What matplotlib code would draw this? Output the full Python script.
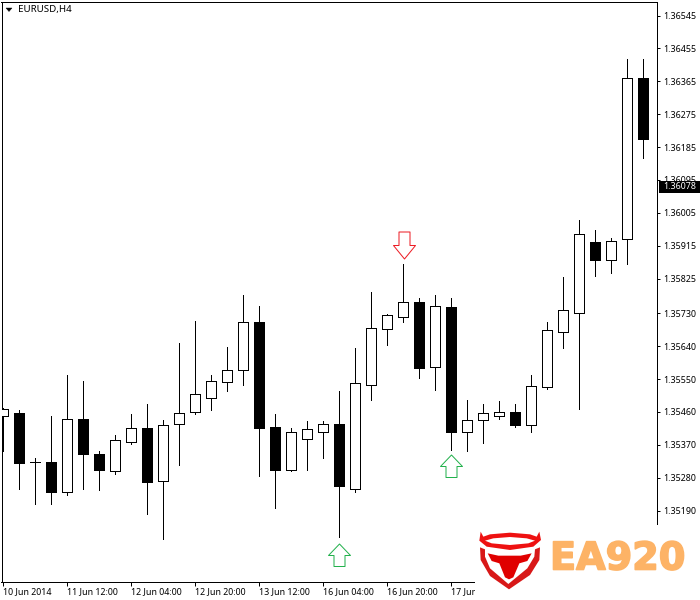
import matplotlib
matplotlib.use("Agg")
import matplotlib.pyplot as plt
import matplotlib.patheffects as pe
from matplotlib.patches import Polygon, Rectangle

from matplotlib.path import Path

opens = [1.35448,1.35456,1.35322,1.35322,1.35240,1.35442,1.35344,1.35297,1.35379,1.35415,1.35272,
         1.35426,1.35461,1.35497,1.35543,1.35576,1.35705,1.35420,1.35300,1.35387,1.35406,1.35426,
         1.35250,1.35535,1.35688,1.35721,1.35762,1.35582,1.35746,1.35406,1.35437,1.35450,1.35461,
         1.35423,1.35527,1.35680,1.35732,1.35924,1.35877,1.35932,1.36373]
highs = [1.35472,1.35464,1.35333,1.35448,1.35562,1.35546,1.35354,1.35396,1.35453,1.35483,1.35439,
         1.35650,1.35710,1.35562,1.35639,1.35781,1.35749,1.35453,1.35415,1.35434,1.35434,1.35516,
         1.35636,1.35787,1.35727,1.35864,1.35773,1.35781,1.35773,1.35494,1.35483,1.35489,1.35483,
         1.35560,1.35705,1.35828,1.35984,1.35959,1.35935,1.36427,1.36425]
lows = [1.35352,1.35248,1.35207,1.35209,1.35234,1.35248,1.35245,1.35289,1.35371,1.35182,1.35111,
        1.35316,1.35453,1.35464,1.35516,1.35535,1.35286,1.35198,1.35297,1.35300,1.35335,1.35119,
        1.35240,1.35494,1.35642,1.35705,1.35554,1.35521,1.35357,1.35352,1.35374,1.35442,1.35420,
        1.35406,1.35524,1.35636,1.35469,1.35831,1.35839,1.35866,1.36154]
closes = [1.35467,1.35319,1.35322,1.35240,1.35442,1.35344,1.35302,1.35382,1.35415,1.35267,1.35423,
          1.35458,1.35510,1.35546,1.35576,1.35705,1.35417,1.35300,1.35404,1.35412,1.35426,1.35256,
          1.35538,1.35691,1.35724,1.35762,1.35579,1.35749,1.35406,1.35437,1.35458,1.35461,1.35423,
          1.35532,1.35683,1.35738,1.35946,1.35877,1.35929,1.36373,1.36208]

price_ticks = [1.36545,1.36455,1.36365,1.36275,1.36185,1.36095,1.36005,1.35915,1.35825,
               1.35730,1.35640,1.35550,1.35460,1.35370,1.35280,1.35190]
time_tick_idx = [0,4,8,12,16,20,24,28]
time_tick_labels = ["10 Jun 2014","11 Jun 12:00","12 Jun 04:00","12 Jun 20:00",
                    "13 Jun 12:00","16 Jun 04:00","16 Jun 20:00","17 Jun 12:00"]
up_idx = [21,28]
up_price = [1.35068,1.35313]
down_idx = [25.1]
down_price = [1.35917]
last_price = 1.36078
title = "EURUSD,H4"
logo_text = "EA920"

FONT = "Noto Sans"
FS = 6.4
PX = 0.72

fig = plt.figure(figsize=(7, 6), dpi=100, facecolor="white")
ax = fig.add_axes([1.5/700, 18.5/600, 655.5/700, 580/600])
ax.set_xlim(-0.0625, 40.906)
ax.set_ylim(1.349959, 1.365834)

xs = list(range(len(opens)))
ax.vlines(xs, lows, highs, colors="black", lw=PX, antialiased=False, zorder=2)
bottoms = [min(o, c) for o, c in zip(opens, closes)]
heights = [abs(c - o) for o, c in zip(opens, closes)]
faces = ["white" if c >= o else "black" for o, c in zip(opens, closes)]
ax.bar(xs, heights, bottom=bottoms, width=10/16, color=faces, edgecolor="black",
       linewidth=PX, antialiased=False, zorder=3)

up_path = Path([(0,11.5),(11,0),(5.5,0),(5.5,-11),(-5.5,-11),(-5.5,0),(-11,0),(0,11.5)], closed=True)
down_path = Path([(0,-13.5),(11,0),(5.5,0),(5.5,13.5),(-5.5,13.5),(-5.5,0),(-11,0),(0,-13.5)], closed=True)
ax.plot(up_idx, up_price, ls="none", marker=up_path, ms=16.56, mfc="white", mec="#22B14C",
        mew=PX, zorder=4)
ax.plot(down_idx, down_price, ls="none", marker=down_path, ms=19.44, mfc="white", mec="#ED1C24",
        mew=PX, zorder=4)

for s in ax.spines.values():
    s.set_linewidth(PX)
    s.set_color("black")
ax.yaxis.tick_right()
ax.set_yticks(price_ticks)
ax.set_yticklabels([f"{v:.5f}" for v in price_ticks], fontsize=FS, family=FONT)
ax.tick_params(axis="y", length=2.5, width=PX, pad=2)
ax.set_xticks(time_tick_idx)
ax.set_xticklabels(time_tick_labels, fontsize=FS, family=FONT, ha="left")
ax.tick_params(axis="x", length=3, width=PX, pad=1)

# overlay in pixel coordinates
ov = fig.add_axes([0, 0, 1, 1], facecolor="none")
ov.set_xlim(0, 700)
ov.set_ylim(600, 0)
ov.axis("off")

ov.add_patch(Polygon([(6, 8), (12, 8), (9, 11.5)], closed=True, fc="black", ec="black", lw=0.3))
ov.text(18, 9.5, title, fontsize=7, family=FONT, va="center", ha="left", color="black")

y_last = (1590.2 - (last_price - 1.35) * 1e5) / 2.737 - 1
ov.add_patch(Rectangle((658.5, y_last - 5), 41.5, 11.5, fc="black", ec="none", zorder=5))
ov.text(663, y_last + 0.5, f"{last_price:.5f}", color="white", fontsize=FS, family=FONT,
        va="center", ha="left", zorder=6)

# logo: white plate, bull shield, lettering
ov.add_patch(Rectangle((475, 524.5), 225, 76, fc="white", ec="none", zorder=7))


def z(pts):
    return [(440 + x / 3, 500 + y / 3) for x, y in pts]


ring = z([(122,95),(130,110),(150,103),(210,98),(270,103),(290,110),(298,95),(303,120),(280,140),
          (210,150),(140,140),(118,122)])
ov.add_patch(Polygon(ring, closed=True, fc="#EE1111", ec="none", zorder=8))
ov.add_patch(Polygon(z([(135,122),(160,115),(210,111),(260,115),(285,122),(265,130),(210,135),(155,130)]),
                     closed=True, fc="white", ec="none", zorder=8.1))
shield = z([(120,142),(135,148),(135,170),(150,205),(205,252),(262,205),(283,170),(285,148),(300,142),
            (298,180),(270,225),(207,268),(150,228),(122,180)])
ov.add_patch(Polygon(shield, closed=True, fc="#D81818", ec="none", zorder=8))
head = z([(143,160),(175,167),(242,167),(275,160),(262,183),(238,190),(220,232),(207,238),(195,232),
          (178,190),(155,183)])
ov.add_patch(Polygon(head, closed=True, fc="#E00000", ec="none", zorder=8))
t = ov.text(550, 559.5, logo_text, color="#FDB366", fontsize=27.5, family="DejaVu Sans", weight="bold",
            va="center", ha="left", zorder=8)
t.set_path_effects([pe.withStroke(linewidth=1.2, foreground="#FDB366")])

fig.savefig("out.png", dpi=100, facecolor="white")
